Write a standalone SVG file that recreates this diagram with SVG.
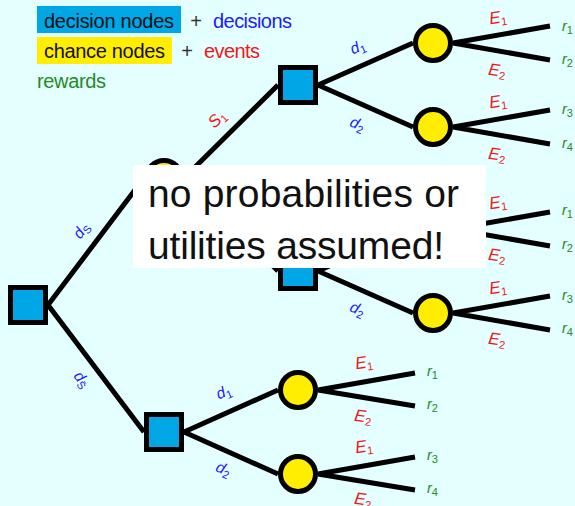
<svg xmlns="http://www.w3.org/2000/svg" width="575" height="506" viewBox="0 0 575 506">
<style>
text{font-family:"Liberation Sans",Arial,sans-serif}
.leg{font-size:20px}
.edge{stroke:#000;stroke-width:5;fill:none}
.dec{fill:#00A6E6;stroke:#000;stroke-width:5}
.cha{fill:#FFEE00;stroke:#000;stroke-width:5}
.bl{fill:#2020ff;font-size:15.5px;font-style:italic}
.rd{fill:#f01818;font-size:17px;font-style:italic}
.gr{fill:#228b22;font-size:14.5px;font-style:italic}
.sub{font-size:11px;font-style:normal}
.big{font-size:39px;fill:#111}
</style>
<rect width="575" height="506" fill="#E4FFFF"/>
<g id="legend">
<rect x="37" y="6" width="144" height="27" fill="#00A6E6"/>
<text class="leg" x="44" y="27.5" fill="#111" textLength="130">decision nodes</text>
<text class="leg" x="196" y="27.5" fill="#333" text-anchor="middle">+</text>
<text class="leg" x="213" y="27.5" fill="#2020ff" textLength="79">decisions</text>
<rect x="37" y="37" width="135" height="27" fill="#FFEE00"/>
<text class="leg" x="44" y="57.5" fill="#111" textLength="121">chance nodes</text>
<text class="leg" x="187" y="57.5" fill="#333" text-anchor="middle">+</text>
<text class="leg" x="204" y="57.5" fill="#f01818" textLength="56">events</text>
<text class="leg" x="37" y="88" fill="#228b22" textLength="69">rewards</text>
</g>
<g id="connectors" class="edge">
<path d="M48,305 L144,178 M48,305 L144,432"/>
<path d="M184,178 L278,85 M184,178 L278,271"/>
<path d="M184,432 L278,390 M184,432 L278,474"/>
<path d="M318,85 L413,43 M318,85 L413,127"/>
<path d="M318,271 L413,229 M318,271 L413,313"/>
<path d="M453,43 L550,26 M453,43 L550,60"/>
<path d="M453,127 L550,110 M453,127 L550,144"/>
<path d="M453,229 L550,212 M453,229 L550,246"/>
<path d="M453,313 L550,296 M453,313 L550,330"/>
<path d="M318,390 L415,373 M318,390 L415,406"/>
<path d="M318,474 L415,457 M318,474 L415,490"/>
</g>
<g id="edge-labels">
<text class="bl" transform="translate(82,231) rotate(-52)" text-anchor="middle" y="4">d<tspan class="sub" dy="3">S</tspan></text>
<text class="bl" transform="translate(81,380) rotate(52)" text-anchor="middle" y="4">d<tspan class="sub" dy="3">S̄</tspan></text>
<text class="rd" transform="translate(218,120) rotate(-44)" text-anchor="middle" y="4">S<tspan class="sub" dy="3">1</tspan></text>
<text class="bl" transform="translate(358,48) rotate(-23)" text-anchor="middle" y="4">d<tspan class="sub" dy="3">1</tspan></text>
<text class="bl" transform="translate(357,125) rotate(23)" text-anchor="middle" y="4">d<tspan class="sub" dy="3">2</tspan></text>
<text class="bl" transform="translate(357,310) rotate(23)" text-anchor="middle" y="4">d<tspan class="sub" dy="3">2</tspan></text>
<text class="bl" transform="translate(224,393) rotate(-23)" text-anchor="middle" y="4">d<tspan class="sub" dy="3">1</tspan></text>
<text class="bl" transform="translate(223,470) rotate(23)" text-anchor="middle" y="4">d<tspan class="sub" dy="3">2</tspan></text>
<text class="rd" transform="translate(498,18) rotate(-8)" text-anchor="middle" y="5">E<tspan class="sub" dy="3">1</tspan></text>
<text class="rd" transform="translate(497,71) rotate(8)" text-anchor="middle" y="5">E<tspan class="sub" dy="3">2</tspan></text>
<text class="rd" transform="translate(498,102) rotate(-8)" text-anchor="middle" y="5">E<tspan class="sub" dy="3">1</tspan></text>
<text class="rd" transform="translate(497,155) rotate(8)" text-anchor="middle" y="5">E<tspan class="sub" dy="3">2</tspan></text>
<text class="rd" transform="translate(498,203) rotate(-8)" text-anchor="middle" y="5">E<tspan class="sub" dy="3">1</tspan></text>
<text class="rd" transform="translate(497,256) rotate(8)" text-anchor="middle" y="5">E<tspan class="sub" dy="3">2</tspan></text>
<text class="rd" transform="translate(498,288) rotate(-8)" text-anchor="middle" y="5">E<tspan class="sub" dy="3">1</tspan></text>
<text class="rd" transform="translate(497,340) rotate(8)" text-anchor="middle" y="5">E<tspan class="sub" dy="3">2</tspan></text>
<text class="rd" transform="translate(364,363) rotate(-8)" text-anchor="middle" y="5">E<tspan class="sub" dy="3">1</tspan></text>
<text class="rd" transform="translate(363,417) rotate(8)" text-anchor="middle" y="5">E<tspan class="sub" dy="3">2</tspan></text>
<text class="rd" transform="translate(364,447) rotate(-8)" text-anchor="middle" y="5">E<tspan class="sub" dy="3">1</tspan></text>
<text class="rd" transform="translate(363,500) rotate(8)" text-anchor="middle" y="5">E<tspan class="sub" dy="3">2</tspan></text>
</g>
<g id="rewards">
<text class="gr" x="562" y="31">r<tspan class="sub" dy="3">1</tspan></text>
<text class="gr" x="562" y="64">r<tspan class="sub" dy="3">2</tspan></text>
<text class="gr" x="562" y="114">r<tspan class="sub" dy="3">3</tspan></text>
<text class="gr" x="562" y="148">r<tspan class="sub" dy="3">4</tspan></text>
<text class="gr" x="562" y="215">r<tspan class="sub" dy="3">1</tspan></text>
<text class="gr" x="562" y="249">r<tspan class="sub" dy="3">2</tspan></text>
<text class="gr" x="562" y="300">r<tspan class="sub" dy="3">3</tspan></text>
<text class="gr" x="562" y="333">r<tspan class="sub" dy="3">4</tspan></text>
<text class="gr" x="427" y="376">r<tspan class="sub" dy="3">1</tspan></text>
<text class="gr" x="427" y="409">r<tspan class="sub" dy="3">2</tspan></text>
<text class="gr" x="427" y="460">r<tspan class="sub" dy="3">3</tspan></text>
<text class="gr" x="427" y="493">r<tspan class="sub" dy="3">4</tspan></text>
</g>
<g id="root"><rect class="dec" x="10.5" y="287.5" width="35" height="35"/></g>
<g id="chance0"><circle class="cha" cx="164" cy="178" r="17.5"/></g>
<g id="decision1"><rect class="dec" x="280.5" y="67.5" width="35" height="35"/></g>
<g id="decision2"><rect class="dec" x="280.5" y="253.5" width="35" height="35"/></g>
<g id="decision3"><rect class="dec" x="146.5" y="414.5" width="35" height="35"/></g>
<g id="chance1"><circle class="cha" cx="433" cy="43" r="17.5"/></g>
<g id="chance2"><circle class="cha" cx="433" cy="127" r="17.5"/></g>
<g id="chance3"><circle class="cha" cx="433" cy="229" r="17.5"/></g>
<g id="chance4"><circle class="cha" cx="433" cy="313" r="17.5"/></g>
<g id="chance5"><circle class="cha" cx="298" cy="390" r="17.5"/></g>
<g id="chance6"><circle class="cha" cx="298" cy="474" r="17.5"/></g>
<g id="overlay">
<rect x="133" y="165" width="353" height="103" fill="#fff"/>
<text class="big" x="148" y="207" textLength="311">no probabilities or</text>
<text class="big" x="148" y="259" textLength="296">utilities assumed!</text>
</g>
</svg>
